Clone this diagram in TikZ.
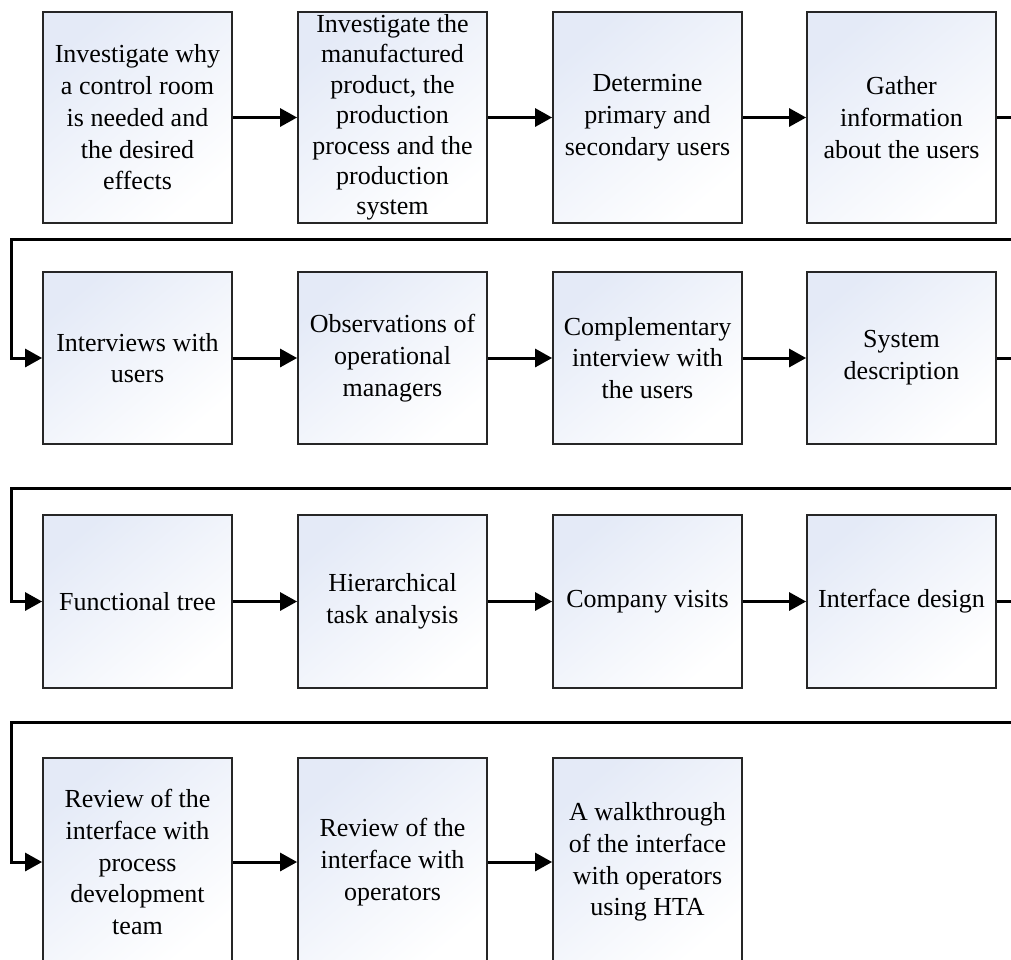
\documentclass[tikz,border=0pt]{standalone}
\usepackage{fontspec}
\setmainfont{Liberation Serif}
\usetikzlibrary{arrows.meta}
\definecolor{boxtop}{RGB}{228,234,247}
\begin{document}
\begin{tikzpicture}[x=1pt,y=-1pt,
  stepbox/.style={draw=black!85, line width=1.8pt, top color=boxtop, middle color=boxtop!40!white, bottom color=white, shading angle=40,
    minimum width=189pt, inner sep=0pt, align=center,
    font=\fontsize{26}{31.7}\selectfont},
  conn/.style={line width=3pt, -{Triangle[length=17pt,width=18pt]}}]
\useasboundingbox (0,0) rectangle (1011,959);
\clip (0,0) rectangle (1011,959);
% row 1
\node[stepbox, minimum height=211pt] (b1) at (137.5,117.5) {Investigate why\\a control room\\is needed and\\the desired\\effects};
\node[stepbox, minimum height=211pt, font=\fontsize{26}{30.4}\selectfont] (b2) at (392.5,117.5) {Investigate the\\manufactured\\product, the\\production\\process and the\\production\\system};
\node[stepbox, minimum height=211pt] (b3) at (647.5,117.5) {Determine\\primary and\\secondary users};
\node[stepbox, minimum height=211pt] (b4) at (901.5,117.5) {Gather\\information\\about the users};
% row 2
\node[stepbox, minimum height=172pt] (b5) at (137.5,358) {Interviews with\\users};
\node[stepbox, minimum height=172pt] (b6) at (392.5,358) {Observations of\\operational\\managers};
\node[stepbox, minimum height=172pt] (b7) at (647.5,358) {Complementary\\interview with\\the users};
\node[stepbox, minimum height=172pt] (b8) at (901.5,358) {System\\description};
% row 3
\node[stepbox, minimum height=173pt] (b9) at (137.5,601.5) {Functional tree};
\node[stepbox, minimum height=173pt] (b10) at (392.5,601.5) {Hierarchical\\task analysis};
\node[stepbox, minimum height=173pt] (b11) at (647.5,601.5) {Company visits};
\node[stepbox, minimum height=173pt] (b12) at (901.5,601.5) {Interface design};
% row 4
\node[stepbox, minimum height=208pt] (b13) at (137.5,862) {Review of the\\interface with\\process\\development\\team};
\node[stepbox, minimum height=208pt] (b14) at (392.5,862) {Review of the\\interface with\\operators};
\node[stepbox, minimum height=208pt] (b15) at (647.5,862) {A walkthrough\\of the interface\\with operators\\using HTA};
% connectors within rows
\draw[conn] (b1.east) -- (b2.west);
\draw[conn] (b2.east) -- (b3.west);
\draw[conn] (b3.east) -- (b4.west);
\draw[conn] (b5.east) -- (b6.west);
\draw[conn] (b6.east) -- (b7.west);
\draw[conn] (b7.east) -- (b8.west);
\draw[conn] (b9.east) -- (b10.west);
\draw[conn] (b10.east) -- (b11.west);
\draw[conn] (b11.east) -- (b12.west);
\draw[conn] (b13.east) -- (b14.west);
\draw[conn] (b14.east) -- (b15.west);
% return connectors
\coordinate (r1) at (1025,239);
\coordinate (l1) at (11,239);
\coordinate (r2) at (1025,488);
\coordinate (l2) at (11,488);
\coordinate (r3) at (1025,722);
\coordinate (l3) at (11,722);
\draw[conn] (b4.east) -| (r1) -- (l1) |- (b5.west);
\draw[conn] (b8.east) -| (r2) -- (l2) |- (b9.west);
\draw[conn] (b12.east) -| (r3) -- (l3) |- (b13.west);
\end{tikzpicture}
\end{document}
